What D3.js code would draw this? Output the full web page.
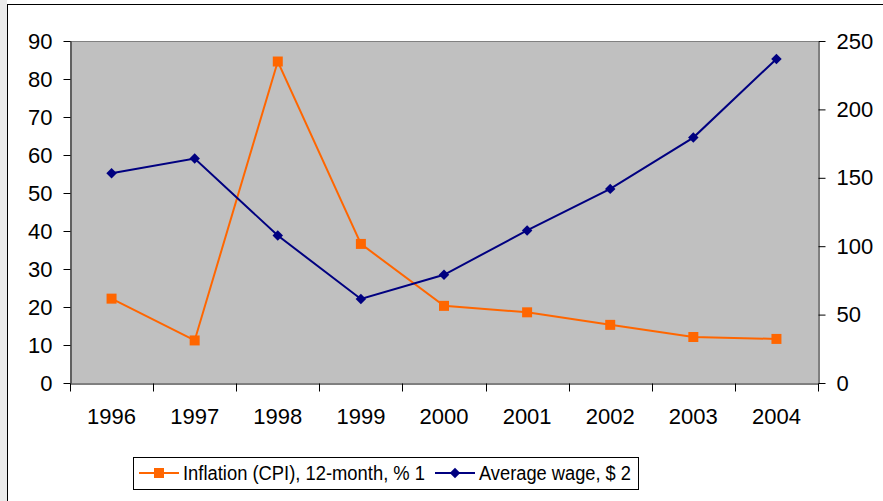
<!DOCTYPE html>
<html>
<head>
<meta charset="utf-8">
<script src="https://cdn.jsdelivr.net/npm/d3@7"></script>
<style>
  body { margin: 0; background: #fff; }
  svg { display: block; font-family: "Liberation Sans", Arial, sans-serif; }
</style>
</head>
<body>
<div id="chart"></div>
<script>
// Data
const years = ['1996', '1997', '1998', '1999', '2000', '2001', '2002', '2003', '2004'];
const inflation = [22.2, 11.2, 84.6, 36.6, 20.3, 18.6, 15.3, 12.1, 11.6];
const wage = [153.4, 164.1, 107.8, 61.4, 79.1, 111.5, 141.9, 179.4, 236.9];
const leftTicks = [0, 10, 20, 30, 40, 50, 60, 70, 80, 90];
const rightTicks = [0, 50, 100, 150, 200, 250];
const seriesNames = ['Inflation (CPI), 12-month, % 1', 'Average wage, $ 2'];

const width = 883, height = 501;
const plot = { left: 70, right: 818, top: 41, bottom: 383 };
const axisFont = 22;
const legendFont = 20;

const svg = d3.select('#chart').append('svg')
    .attr('width', width)
    .attr('height', height);

// outer chart frame
svg.append('rect').attr('x', 0).attr('y', 0).attr('width', 7).attr('height', height).attr('fill', '#ebebeb');
svg.append('rect')
    .attr('x', 7.5).attr('y', 4.5)
    .attr('width', width + 10).attr('height', height + 10)
    .attr('fill', '#fff')
    .attr('stroke', '#000')
    .attr('stroke-width', 1);

const x = d3.scaleBand()
    .domain(years)
    .range([plot.left, plot.right])
    .padding(0);

const yL = d3.scaleLinear().domain([0, 90]).range([plot.bottom, plot.top]);
const yR = d3.scaleLinear().domain([0, 250]).range([plot.bottom, plot.top]);

// plot area
svg.append('rect')
    .attr('x', plot.left).attr('y', plot.top)
    .attr('width', plot.right - plot.left)
    .attr('height', plot.bottom - plot.top)
    .attr('fill', '#c0c0c0');
svg.append('line')
    .attr('x1', plot.left).attr('x2', plot.right)
    .attr('y1', plot.top + 0.5).attr('y2', plot.top + 0.5)
    .attr('stroke', '#808080').attr('stroke-width', 1);

// left axis
const leftAxis = svg.append('g')
    .attr('transform', `translate(${plot.left + 0.5},0)`)
    .call(d3.axisLeft(yL).tickValues(leftTicks).tickSize(7).tickSizeOuter(0).tickPadding(11));

// right axis
const rightAxis = svg.append('g')
    .attr('transform', `translate(${plot.right + 0.5},0)`)
    .call(d3.axisRight(yR).tickValues(rightTicks).tickSize(7).tickSizeOuter(0).tickPadding(11));

// bottom axis: labels in band centers, ticks at band edges
const bottomAxis = svg.append('g')
    .attr('transform', `translate(0,${plot.bottom + 0.5})`)
    .call(d3.axisBottom(x).tickSize(0).tickSizeOuter(0));
bottomAxis.selectAll('.tick text').attr('y', 40.5).attr('dy', 0);

const edges = years.map(d => x(d)).concat([plot.right]);
bottomAxis.selectAll('.edge')
    .data(edges)
    .enter().append('line')
    .attr('class', 'edge')
    .attr('x1', d => Math.round(d) + 0.5).attr('x2', d => Math.round(d) + 0.5)
    .attr('y1', 0).attr('y2', 8)
    .attr('stroke', '#000');

[leftAxis, rightAxis, bottomAxis].forEach(g => {
    g.selectAll('path.domain').attr('stroke', '#000').attr('stroke-width', 1);
    g.selectAll('.tick line').attr('stroke', '#000');
    g.selectAll('text')
        .attr('fill', '#000')
        .style('font-size', axisFont + 'px')
        .style('font-family', '"Liberation Sans", Arial, sans-serif');
});

// series lines
const cx = d => x(d) + x.bandwidth() / 2;

const lineInf = d3.line().x((d, i) => cx(years[i])).y(d => yL(d));
const lineWage = d3.line().x((d, i) => cx(years[i])).y(d => yR(d));

svg.append('path')
    .datum(inflation)
    .attr('d', lineInf)
    .attr('fill', 'none')
    .attr('stroke', '#ff6600')
    .attr('stroke-width', 2);

svg.append('path')
    .datum(wage)
    .attr('d', lineWage)
    .attr('fill', 'none')
    .attr('stroke', '#000080')
    .attr('stroke-width', 2);

const squareSym = d3.symbol().type(d3.symbolSquare).size(100);
const diamondSym = d3.symbol().type(d3.symbolDiamond2).size(70);

svg.append('g').selectAll('path')
    .data(inflation)
    .enter().append('path')
    .attr('d', squareSym)
    .attr('transform', (d, i) => `translate(${cx(years[i])},${yL(d)})`)
    .attr('fill', '#ff6600');

svg.append('g').selectAll('path')
    .data(wage)
    .enter().append('path')
    .attr('d', diamondSym)
    .attr('transform', (d, i) => `translate(${cx(years[i])},${yR(d)})`)
    .attr('fill', '#000080');

// legend
const legend = svg.append('g');
legend.append('rect')
    .attr('x', 133.5).attr('y', 457.5)
    .attr('width', 505).attr('height', 32)
    .attr('fill', '#fff').attr('stroke', '#000');

const legendItems = [
    { name: seriesNames[0], color: '#ff6600', sym: squareSym, x0: 139, len: 242 },
    { name: seriesNames[1], color: '#000080', sym: diamondSym, x0: 435, len: 152 }
];
legendItems.forEach(it => {
    const ly = 473;
    legend.append('line')
        .attr('x1', it.x0).attr('x2', it.x0 + 40)
        .attr('y1', ly).attr('y2', ly)
        .attr('stroke', it.color).attr('stroke-width', 2);
    legend.append('path')
        .attr('d', it.sym)
        .attr('transform', `translate(${it.x0 + 20},${ly})`)
        .attr('fill', it.color);
    legend.append('text')
        .attr('x', it.x0 + 44)
        .attr('y', ly + 7)
        .attr('textLength', it.len)
        .attr('lengthAdjust', 'spacingAndGlyphs')
        .style('font-size', legendFont + 'px')
        .attr('fill', '#000')
        .text(it.name);
});
</script>
</body>
</html>
